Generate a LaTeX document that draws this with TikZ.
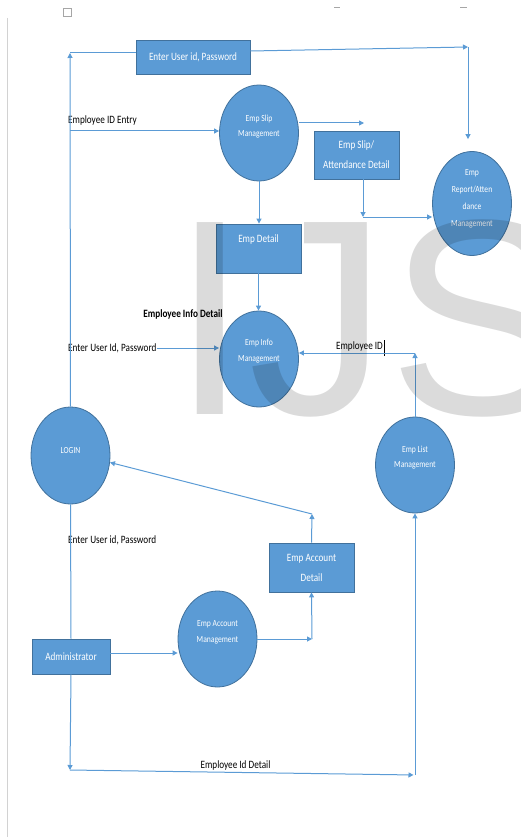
\documentclass[tikz,border=0pt]{standalone}
\usepackage{fontspec}
\setmainfont{Carlito}[FakeStretch=0.82]
\newfontfamily\wmfont{Liberation Sans}
\usetikzlibrary{arrows.meta,shapes.geometric}
\definecolor{fillblue}{HTML}{5B9BD5}
\definecolor{edgeblue}{HTML}{41719C}
\definecolor{lineblue}{HTML}{5B9BD5}
\begin{document}
\begin{tikzpicture}[x=1pt,y=-1pt,
  box/.style={draw=edgeblue, line width=0.8pt, fill=fillblue, text=white, inner sep=0pt, font=\fontsize{11.2}{20}\selectfont, align=center},
  proc/.style={ellipse, draw=edgeblue, line width=0.8pt, fill=fillblue, minimum width=79pt, minimum height=96pt, inner sep=0pt},
  ptext/.style={text=white, font=\fontsize{9.3}{16}\selectfont, align=center, inner sep=0pt},
  btext/.style={text=white, font=\fontsize{11.2}{20}\selectfont, align=center, inner sep=0pt},
  lbl/.style={font=\fontsize{11.2}{13}\selectfont, inner sep=0pt, text=black},
  flow/.style={draw=lineblue, line width=1pt},
  arr/.style={flow, -{Triangle[length=5pt,width=5pt]}},
]
\useasboundingbox (0,0) rectangle (521,837);
% page marks
\draw[gray!35, line width=0.8pt] (7.5,18) -- (7.5,837);
\node[draw=gray!70, line width=0.6pt, minimum size=8pt, inner sep=0pt] (sq) at (67.5,12.5) {};
\draw[gray!70, line width=0.8pt] (334,7) -- (340,7);
\draw[gray!70, line width=0.8pt] (460,7) -- (467,7);

% shapes
\node[box, minimum width=114pt, minimum height=34pt] (euid) at (193,57) {Enter User id, Password};
\node[proc, label={[ptext, font=\fontsize{9.3}{15}\selectfont, yshift=6.5pt]center:{Emp Slip\\Management}}] (slip) at (259,133) {};
\node[box, minimum width=85pt, minimum height=48pt] (attd) at (356.5,155) {Emp Slip/\\Attendance Detail};
\node[proc, minimum height=104pt, label={[ptext, font=\fontsize{9.3}{17}\selectfont, yshift=5pt]center:{Emp\\Report/Atten\\dance\\Management}}] (report) at (472,203.5) {};
\node[box, minimum width=85pt, minimum height=49pt, label={[btext, yshift=9pt]center:{Emp Detail}}] (detail) at (258.5,248.5) {};
\node[proc, label={[ptext, yshift=8pt]center:{Emp Info\\Management}}] (info) at (259,359) {};
\node[proc, minimum height=97pt, label={[ptext, yshift=5pt]center:{LOGIN}}] (login) at (70.5,455.5) {};
\node[proc, label={[ptext, font=\fontsize{9.3}{15}\selectfont, yshift=7.5pt]center:{Emp List\\Management}}] (list) at (415,465) {};
\node[box, minimum width=85pt, minimum height=49pt] (acctd) at (311.5,567.5) {Emp Account\\Detail};
\node[proc, label={[ptext, yshift=7pt]center:{Emp Account\\Management}}] (acctm) at (217.5,639) {};
\node[box, minimum width=78pt, minimum height=35pt] (admin) at (71,656.5) {Administrator};

% coordinates
\coordinate (tl) at (70,53);
\coordinate (tr) at (468,47);
\coordinate (eid) at (70,131);
\coordinate (sr) at (364,123);
\coordinate (ad) at (363,217);
\coordinate (li) at (415,353);
\coordinate (ak) at (312,514);
\coordinate (am) at (312,639);
\coordinate (adm) at (110,653);
\coordinate (bl) at (70,770);
\coordinate (br) at (415,775);

% labels
\node[lbl, anchor=west] (l1) at (68,121) {Employee ID Entry};
\node[lbl, anchor=west] (l2) at (68,348) {Enter User Id, Password};
\node[lbl, font=\fontsize{11.2}{13}\selectfont\bfseries] (l3) at (183,314) {Employee Info Detail};
\node[lbl] (l4) at (359.5,347) {Employee ID};
\draw[black, line width=0.6pt] (384.5,340) -- (384.5,356);
\node[lbl, anchor=west] (l5) at (68,540) {Enter User id, Password};
\node[lbl] (l6) at (235.5,766) {Employee Id Detail};

% connectors
\draw[arr] (login.north) -- (tl);
\draw[flow] (tl) -- (tl -| euid.west);
\draw[arr] (euid.east) ++(0,-6) -- (tr);
\draw[arr, shorten >=12pt] (tr) -- (tr |- report.north);
\draw[arr] (eid) -- (eid -| slip.west);
\draw[arr] (slip.east |- sr) -- (sr);
\draw[arr] (slip.south) -- (slip.south |- detail.north);
\draw[arr] (ad |- attd.south) -- (ad);
\draw[arr] (ad) -- (ad -| report.west);
\draw[arr] (detail.south) -- (detail.south |- info.north);
\draw[arr] (l2.east) -- (l2.east -| info.west);
\draw[arr] (list.north) -- (li);
\draw[arr] (li) -- (li -| info.east);
\draw[arr] (acctd.north) -- (ak);
\draw[arr] (ak) -- (login.-10);
\draw[arr] (adm) -- (adm -| acctm.west);
\draw[arr] (acctm.east) -- (am);
\draw[arr] (am) -- (acctd.south);
\draw[flow] (login.south) -- (admin.north);
\draw[arr] (admin.south) -- (bl);
\draw[arr, shorten >=1.5pt] (bl) -- (br);
\draw[arr] (br) -- (list.south);

% watermark
\node[anchor=base west, inner sep=0pt, text=black, opacity=0.14, font=\wmfont\fontsize{279}{279}\selectfont] (wm) at (171,414) {IJS};
\end{tikzpicture}
\end{document}
